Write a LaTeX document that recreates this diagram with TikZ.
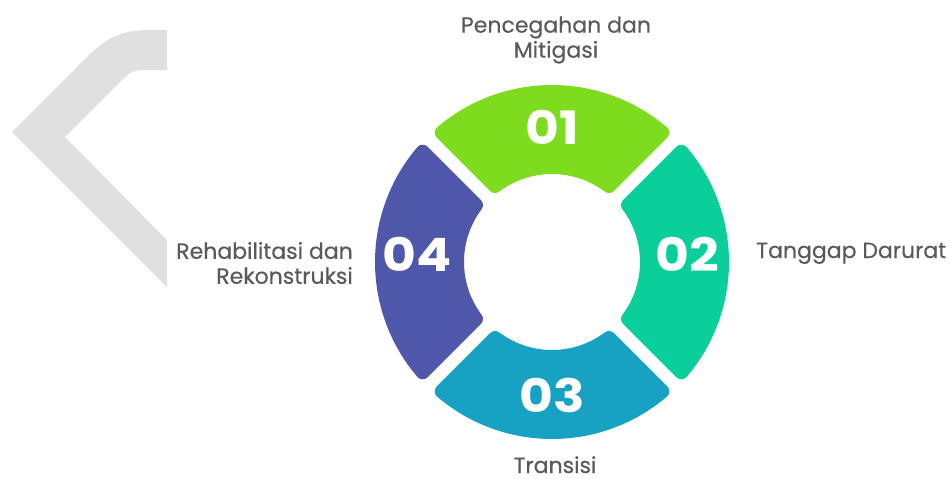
\documentclass[tikz,border=0pt]{standalone}
\usepackage{fontspec}
\setmainfont{Poppins}
\newfontfamily\numfont{Poppins}[FakeStretch=1.13]
\newfontfamily\titlefont{Poppins}[FakeBold=0.4]
\definecolor{chevrongray}{HTML}{E0E0E0}
\definecolor{segA}{HTML}{7DDC1E}
\definecolor{segB}{HTML}{0BCF9B}
\definecolor{segC}{HTML}{17A2C3}
\definecolor{segD}{HTML}{4F57AB}
\definecolor{labelgray}{HTML}{5A5A5A}
\tikzset{
  numlabel/.style={text=white, inner sep=0pt, font=\fontsize{46}{46}\numfont\bfseries},
  steplabel/.style={text=labelgray, inner sep=0pt, font=\fontsize{22}{25}\titlefont},
}
\begin{document}
\begin{tikzpicture}[x=1pt,y=-1pt]
\useasboundingbox (0,0) rectangle (950,479);

% large light-gray chevron on the left
\fill[chevrongray] (167,30) -- (150,30) .. controls (112,30) and (100,44) .. (76,68) -- (12,132)
  -- (167,287) -- (167,240) -- (65,137) -- (115,87) .. controls (132,70) .. (150,70)
  -- (167,70) -- cycle;

% four ring segments with rounded corners (shrunk shape + round-joined stroke)
\pgfmathsetmacro{\Ro}{170}
\pgfmathsetmacro{\ri}{95}
\pgfmathsetmacro{\dout}{asin(13.5/\Ro)}
\pgfmathsetmacro{\din}{asin(13.5/\ri)}
\begin{scope}[shift={(552,262)}, y=1pt]
  \foreach \ang/\col in {90/segA, 0/segB, -90/segC, 180/segD} {
    \filldraw[fill=\col, draw=\col, line width=14pt, line join=round]
      (\ang-45+\dout:\Ro) arc[start angle=\ang-45+\dout, end angle=\ang+45-\dout, radius=\Ro]
      -- (\ang+45-\din:\ri) arc[start angle=\ang+45-\din, end angle=\ang-45+\din, radius=\ri]
      -- cycle;
  }
\end{scope}

% step numbers
\node[numlabel] (n1) at (552,127.5) {01};
\node[numlabel] (n2) at (687,254) {02};
\node[numlabel] (n3) at (552,395) {03};
\node[numlabel] (n4) at (417,254) {04};

% step titles
\node[steplabel, align=center] (t1) at (556,40) {Pencegahan dan\\Mitigasi};
\node[steplabel, anchor=base west] (t2) at (756,258) {Tanggap Darurat};
\node[steplabel, anchor=base] (t3) at (555,473) {Transisi};
\node[steplabel, align=right, anchor=east] (t4) at (353,263) {Rehabilitasi dan\\Rekonstruksi};
\end{tikzpicture}
\end{document}
